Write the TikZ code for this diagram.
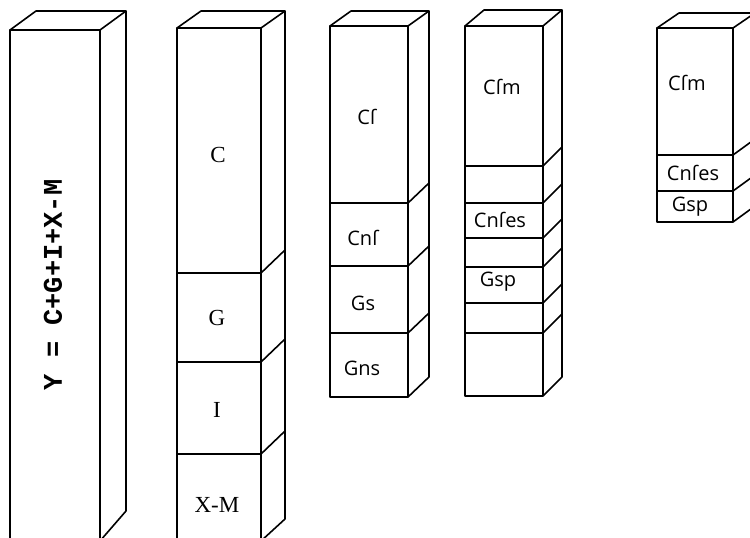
\documentclass[tikz,border=0pt]{standalone}
\usepackage{fontspec}
\setmainfont{Open Sans}
\newfontfamily\monofnt{Liberation Mono}
\newfontfamily\serfnt{Liberation Serif}
% #1 x left, #2 x right, #3 y top, #4 y bottom, #5 dx, #6 dy top face, #7 dy side diagonals
\newcommand\prismbox[7]{%
  \draw (#1,#3) rectangle (#2,#4);
  \draw (#1,#3) -- ++(#5,#6) -- ++({#2-#1},0) -- (#2,#3);
  \draw (#2,#3) ++(#5,#6) -- ++(0,{#4-#3+#7-#6}) -- (#2,#4);
}
\newcommand\prismdiv[5]{% #1 x left, #2 x right, #3 dx, #4 dy, #5 list
  \foreach \yy in {#5} {\draw (#1,\yy) -- (#2,\yy) -- ++(#3,#4);}
}
\begin{document}
\begin{tikzpicture}[x=1pt,y=-1pt,line width=1.6pt,line join=round,
  lab/.style={font=\fontsize{20}{24}\selectfont,inner sep=0pt},
  serlab/.style={font=\serfnt\fontsize{23}{26}\selectfont,inner sep=0pt},
  monolab/.style={font=\monofnt\bfseries\fontsize{27}{30}\selectfont,inner sep=0pt}]
\useasboundingbox (0,0) rectangle (750,538);
\clip (0,0) rectangle (750,538);
% box 1
\prismbox{10}{100}{30}{541}{26}{-19}{-30}
\node[monolab,rotate=90] (y) at (53,285) {Y = C+G+I+X-M};
% box 2
\prismbox{177}{261}{28}{541}{24}{-17}{-22}
\prismdiv{177}{261}{24}{-23}{273,362,454}
\node[serlab] (c) at (218,155) {C};
\node[serlab] (g) at (217,318) {G};
\node[serlab] (i) at (217,410) {I};
\node[serlab] (xm) at (217,505) {X-M};
% box 3
\prismbox{330}{408}{26}{397}{21}{-15}{-20}
\prismdiv{330}{408}{21}{-20}{203,266,333}
\node[lab] (cf) at (367,117) {Cſ};
\node[lab] (cnf) at (363,238) {Cnſ};
\node[lab] (gs) at (363,303) {Gs};
\node[lab] (gns) at (362,368) {Gns};
% box 4
\prismbox{465}{543}{26}{396}{19}{-16}{-19}
\prismdiv{465}{543}{19}{-19}{166,203,238,267,303,333}
\node[lab] (cfm4) at (502,87) {Cſm};
\node[lab] (cnfes4) at (500,220) {Cnſes};
\node[lab] (gsp4) at (498,282) {Gsp};
% box 5
\prismbox{657}{733}{28}{222}{22}{-15}{-16}
\prismdiv{657}{733}{22}{-16}{155,191}
\node[lab] (cfm5) at (687,83) {Cſm};
\node[lab] (cnfes5) at (693,173) {Cnſes};
\node[lab] (gsp5) at (690,207) {Gsp};
\end{tikzpicture}
\end{document}
